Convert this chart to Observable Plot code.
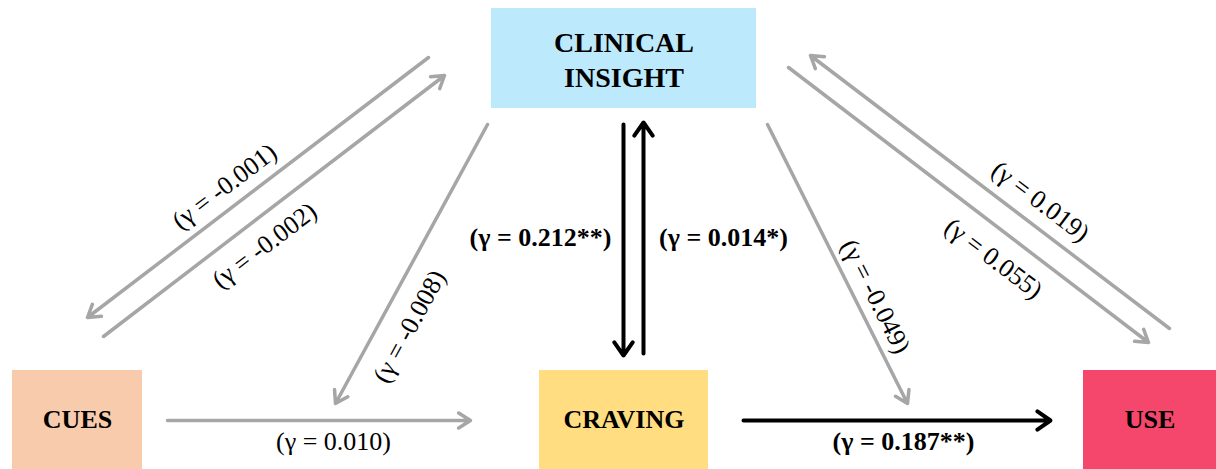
<!DOCTYPE html>
<html>
<head>
<meta charset="utf-8">
<script src="https://cdn.jsdelivr.net/npm/d3@7"></script>
<script src="https://cdn.jsdelivr.net/npm/@observablehq/plot@0.6"></script>
<style>
  html, body { margin: 0; padding: 0; background: #ffffff; }
  #chart svg { display: block; }
</style>
</head>
<body>
<div id="chart"></div>
<script>
// ---- Data ----
const nodeNames  = ["CLINICAL\nINSIGHT", "CUES", "CRAVING", "USE"];
const nodeColors = ["#BDE9FD", "#F8CBAD", "#FFDD80", "#F4476B"];
const nodeX1 = [491, 12, 539, 1083];
const nodeX2 = [756, 142, 708, 1216];
const nodeY1 = [8, 370, 370, 370];
const nodeY2 = [108, 469, 469, 469];

// paths: from, to, gamma estimate, significance
const pathFrom   = ["CLINICAL INSIGHT", "CUES", "CLINICAL INSIGHT", "CUES", "CLINICAL INSIGHT", "CRAVING", "CLINICAL INSIGHT", "USE", "CLINICAL INSIGHT", "CRAVING"];
const pathTo     = ["CUES", "CLINICAL INSIGHT", "CRAVING", "CRAVING", "CRAVING", "CLINICAL INSIGHT", "USE", "CLINICAL INSIGHT", "USE", "USE"];
const pathGamma  = ["-0.001", "-0.002", "-0.008", "0.010", "0.212", "0.014", "-0.049", "0.019", "0.055", "0.187"];
const pathSig    = ["", "", "", "", "**", "*", "", "", "", "**"];
// arrow geometry (diagram layout)
const arrX1 = [428, 103, 487, 167, 623, 643, 767, 1169, 788, 743];
const arrY1 = [57, 336, 124, 420, 124, 353, 124, 328, 67, 420];
const arrX2 = [87, 444, 335, 470, 623, 643, 907, 810, 1148, 1050];
const arrY2 = [317, 75, 403, 420, 355, 122, 403, 55, 342, 420];
// label placement (centre, rotation)
const labX = [224, 264, 409, 333, 540, 723, 875, 1040, 993, 903];
const labY = [186, 245, 326, 441, 237, 237, 296, 201, 258, 441];
const labRot = [-37.3, -37.3, -61.4, 0, 0, 0, 63.3, 37.2, 37.2, 0];

// ---- Tables built from arrays ----
const nodes = nodeNames.map((n, i) => ({
  name: n, fill: nodeColors[i],
  x1: nodeX1[i], x2: nodeX2[i], y1: nodeY1[i], y2: nodeY2[i],
  cx: (nodeX1[i] + nodeX2[i]) / 2,
  cy: i === 0 ? 58 : 419
}));
const edges = pathGamma.map((g, i) => ({
  from: pathFrom[i], to: pathTo[i],
  label: `(\u03B3 = ${g}${pathSig[i]})`,
  sig: pathSig[i] !== "",
  x1: arrX1[i], y1: arrY1[i], x2: arrX2[i], y2: arrY2[i],
  lx: labX[i], ly: labY[i], rot: labRot[i]
}));
const grayEdges = edges.filter(d => !d.sig);
const blackEdges = edges.filter(d => d.sig);

const font = "'Liberation Serif', 'Times New Roman', serif";

const chart = Plot.plot({
  width: 1216,
  height: 469,
  margin: 0,
  style: { background: "#ffffff", fontFamily: font },
  x: { domain: [0, 1216], range: [0, 1216], axis: null },
  y: { domain: [0, 469], range: [0, 469], axis: null },
  color: { type: "identity" },
  marks: [
    Plot.rect(nodes, { x1: "x1", x2: "x2", y1: "y1", y2: "y2", fill: "fill" }),
    Plot.text(nodes.filter((d, i) => i === 0), {
      x: "cx", y: "cy", text: "name", fontWeight: "bold", fontSize: 28,
      lineHeight: 1.25, fill: "#000", fontFamily: font, lineAnchor: "middle"
    }),
    Plot.text(nodes.filter((d, i) => i > 0), {
      x: "cx", y: "cy", text: "name", fontWeight: "bold", fontSize: 26,
      fill: "#000", fontFamily: font, lineAnchor: "middle"
    }),
    Plot.arrow(grayEdges, {
      x1: "x1", y1: "y1", x2: "x2", y2: "y2",
      stroke: "#A6A6A6", strokeWidth: 3.5, headLength: 6, headAngle: 65, bend: 0
    }),
    Plot.arrow(blackEdges, {
      x1: "x1", y1: "y1", x2: "x2", y2: "y2",
      stroke: "#000000", strokeWidth: 4, headLength: 6, headAngle: 70, bend: 0
    }),
    Plot.text(grayEdges, {
      x: "lx", y: "ly", text: "label", rotate: "rot", fontSize: 26,
      fill: "#000", fontFamily: font, lineAnchor: "middle", textAnchor: "middle"
    }),
    Plot.text(blackEdges, {
      x: "lx", y: "ly", text: "label", rotate: "rot", fontSize: 26, fontWeight: "bold",
      fill: "#000", fontFamily: font, lineAnchor: "middle", textAnchor: "middle"
    })
  ]
});
document.getElementById("chart").appendChild(chart);
</script>
</body>
</html>
